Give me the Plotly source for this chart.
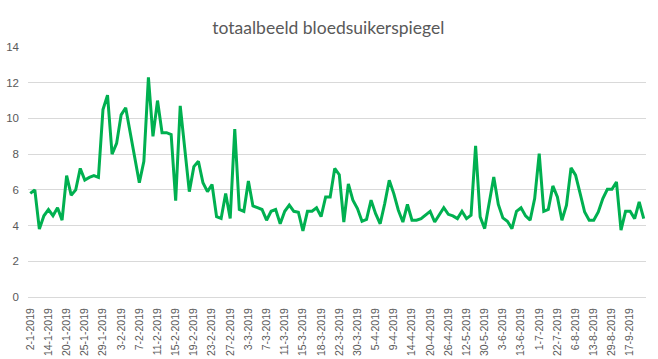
import plotly.graph_objects as go

# Blood glucose readings (one per measurement, in order)
values = [
    5.8, 6.0, 3.8, 4.55, 4.9, 4.55, 5.0, 4.3, 6.8, 5.7,
    6.0, 7.2, 6.55, 6.7, 6.8, 6.7, 10.5, 11.3, 8.0, 8.6,
    10.2, 10.6, 9.2, 7.8, 6.4, 7.6, 12.3, 9.0, 11.0, 9.2,
    9.2, 9.1, 5.4, 10.7, 8.3, 5.9, 7.3, 7.6, 6.4, 5.9,
    6.3, 4.5, 4.4, 5.8, 4.4, 9.4, 4.9, 4.8, 6.5, 5.1,
    5.0, 4.9, 4.3, 4.8, 4.9, 4.1, 4.8, 5.15, 4.8, 4.75,
    3.7, 4.8, 4.8, 5.0, 4.5, 5.6, 5.6, 7.2, 6.85, 4.2,
    6.33, 5.42, 4.95, 4.24, 4.35, 5.42, 4.67, 4.1, 5.23, 6.54,
    5.79, 4.86, 4.2, 5.18, 4.3, 4.3, 4.39, 4.6, 4.8, 4.2,
    4.63, 5.0, 4.63, 4.54, 4.39, 4.8, 4.39, 4.58, 8.46, 4.49,
    3.83, 5.36, 6.72, 5.18, 4.43, 4.24, 3.83, 4.8, 5.0, 4.54,
    4.3, 5.51, 8.03, 4.8, 4.91, 6.22, 5.6, 4.3, 5.14, 7.23,
    6.82, 5.8, 4.76, 4.3, 4.3, 4.76, 5.51, 6.03, 6.03, 6.44,
    3.74, 4.8, 4.8, 4.39, 5.32, 4.39,
]

# Date labels shown on the category axis (every 4th measurement)
tick_labels = [
    "2-1-2019", "14-1-2019", "20-1-2019", "25-1-2019", "29-1-2019",
    "3-2-2019", "7-2-2019", "11-2-2019", "15-2-2019", "19-2-2019",
    "23-2-2019", "27-2-2019", "3-3-2019", "7-3-2019", "11-3-2019",
    "15-3-2019", "18-3-2019", "22-3-2019", "30-3-2019", "5-4-2019",
    "9-4-2019", "14-4-2019", "20-4-2019", "26-4-2019", "12-5-2019",
    "30-5-2019", "3-6-2019", "13-6-2019", "1-7-2019", "22-7-2019",
    "6-8-2019", "13-8-2019", "29-8-2019", "17-9-2019",
]
label_step = 4

x_idx = list(range(len(values)))
tick_vals = [i * label_step for i in range(len(tick_labels))]

fig = go.Figure()
fig.add_trace(go.Scatter(
    x=x_idx, y=values, mode="lines",
    line=dict(color="#00B050", width=3),
    hoverinfo="y",
))

fig.update_layout(
    width=658, height=359,
    margin=dict(l=28, r=12, t=47, b=62),
    paper_bgcolor="white", plot_bgcolor="white",
    showlegend=False,
    title=dict(
        text="totaalbeeld bloedsuikerspiegel",
        font=dict(family="Lato", size=17.5, color="#595959"),
        x=0.499, xanchor="center",
        y=1 - 28 / 359, yanchor="middle", yref="container",
    ),
    font=dict(family="Liberation Sans", color="#595959"),
)

fig.update_xaxes(
    range=[-0.5, len(values) - 0.5],
    tickmode="array", tickvals=tick_vals, ticktext=tick_labels,
    tickangle=-90, tickfont=dict(size=10.5, color="#595959"),
    showgrid=False, zeroline=False,
    showline=True, linecolor="#D9D9D9", linewidth=1,
    ticks="", ticklabelstandoff=6, automargin=False,
)
fig.update_yaxes(
    range=[0, 14], dtick=2,
    tickfont=dict(size=11.5, color="#595959"),
    showgrid=True, gridcolor="#D9D9D9", gridwidth=1,
    zeroline=False, showline=False, ticks="",
    ticklabelstandoff=8, automargin=False,
)

fig.write_html(
    "out.html",
    config={"displayModeBar": False},
    post_script="document.body.style.margin='0';document.body.style.overflow='hidden';",
)
